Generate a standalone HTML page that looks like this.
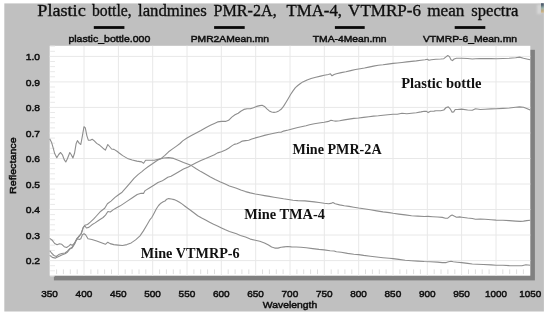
<!DOCTYPE html>
<html><head><meta charset="utf-8"><title>Mean spectra</title>
<style>
html,body{margin:0;padding:0;background:#fff;}
body{width:550px;height:316px;overflow:hidden;}
svg{display:block;}
.sans{font-family:"Liberation Sans",Arial,sans-serif;fill:#111;stroke:#111;stroke-width:0.5px;}
.serif{font-family:"Liberation Serif","Times New Roman",serif;fill:#111;}
</style></head><body>
<svg width="550" height="316" viewBox="0 0 550 316">
<defs><linearGradient id="ic" x1="0" y1="0" x2="0" y2="1"><stop offset="0" stop-color="#2c3c54"/><stop offset="0.2" stop-color="#3c5060"/><stop offset="0.5" stop-color="#8fb0a6"/><stop offset="0.8" stop-color="#c4a468"/><stop offset="1" stop-color="#d8c4a0"/></linearGradient><filter id="b" x="-5%" y="-5%" width="110%" height="110%"><feGaussianBlur stdDeviation="0.55"/></filter>
<filter id="b3" x="-50%" y="-30%" width="200%" height="160%"><feGaussianBlur stdDeviation="1"/></filter>
<filter id="b2" x="-5%" y="-20%" width="110%" height="140%"><feGaussianBlur stdDeviation="0.35"/></filter></defs>
<rect x="0" y="0" width="550" height="316" fill="#ffffff"/>
<rect x="4.3" y="3.4" width="539.6" height="308.1" fill="#c0c0c0"/>
<rect x="537" y="4.5" width="4.5" height="9.5" fill="#d6d6d6" filter="url(#b3)"/>
<rect x="541" y="3.2" width="2.8" height="9.8" fill="url(#ic)" opacity="0.8" filter="url(#b)"/>
<rect x="53.9" y="49.8" width="481.0" height="230.6" fill="#808080"/>
<rect x="49.7" y="45.8" width="480.6" height="229.9" fill="#ffffff"/>
<path d="M84.0 45.8V275.7M118.4 45.8V275.7M152.7 45.8V275.7M187.0 45.8V275.7M221.3 45.8V275.7M255.7 45.8V275.7M290.0 45.8V275.7M324.3 45.8V275.7M358.7 45.8V275.7M393.0 45.8V275.7M427.3 45.8V275.7M461.6 45.8V275.7M496.0 45.8V275.7M49.7 260.6H530.3M49.7 235.0H530.3M49.7 209.5H530.3M49.7 184.0H530.3M49.7 158.5H530.3M49.7 133.0H530.3M49.7 107.4H530.3M49.7 81.9H530.3M49.7 56.4H530.3" stroke="#e8e8e8" stroke-width="1" fill="none"/>
<path d="M56.6 269.4V274.1M63.4 269.4V274.1M70.3 269.4V274.1M77.2 269.4V274.1M90.9 269.4V274.1M97.8 269.4V274.1M104.6 269.4V274.1M111.5 269.4V274.1M125.2 269.4V274.1M132.1 269.4V274.1M139.0 269.4V274.1M145.8 269.4V274.1M159.6 269.4V274.1M166.4 269.4V274.1M173.3 269.4V274.1M180.1 269.4V274.1M193.9 269.4V274.1M200.7 269.4V274.1M207.6 269.4V274.1M214.5 269.4V274.1M228.2 269.4V274.1M235.1 269.4V274.1M241.9 269.4V274.1M248.8 269.4V274.1M262.5 269.4V274.1M269.4 269.4V274.1M276.3 269.4V274.1M283.1 269.4V274.1M296.9 269.4V274.1M303.7 269.4V274.1M310.6 269.4V274.1M317.5 269.4V274.1M331.2 269.4V274.1M338.1 269.4V274.1M344.9 269.4V274.1M351.8 269.4V274.1M365.5 269.4V274.1M372.4 269.4V274.1M379.3 269.4V274.1M386.1 269.4V274.1M399.9 269.4V274.1M406.7 269.4V274.1M413.6 269.4V274.1M420.4 269.4V274.1M434.2 269.4V274.1M441.0 269.4V274.1M447.9 269.4V274.1M454.8 269.4V274.1M468.5 269.4V274.1M475.4 269.4V274.1M482.2 269.4V274.1M489.1 269.4V274.1M502.8 269.4V274.1M509.7 269.4V274.1M516.6 269.4V274.1M523.4 269.4V274.1" stroke="#dedede" stroke-width="1" fill="none"/>
<path d="M50.2 275.9H55.0M50.2 270.8H55.0M50.2 265.7H55.0M50.2 255.5H55.0M50.2 250.4H55.0M50.2 245.2H55.0M50.2 240.1H55.0M50.2 229.9H55.0M50.2 224.8H55.0M50.2 219.7H55.0M50.2 214.6H55.0M50.2 204.4H55.0M50.2 199.3H55.0M50.2 194.2H55.0M50.2 189.1H55.0M50.2 178.9H55.0M50.2 173.8H55.0M50.2 168.7H55.0M50.2 163.6H55.0M50.2 153.4H55.0M50.2 148.3H55.0M50.2 143.2H55.0M50.2 138.1H55.0M50.2 127.9H55.0M50.2 122.8H55.0M50.2 117.6H55.0M50.2 112.5H55.0M50.2 102.3H55.0M50.2 97.2H55.0M50.2 92.1H55.0M50.2 87.0H55.0M50.2 76.8H55.0M50.2 71.7H55.0M50.2 66.6H55.0M50.2 61.5H55.0M50.2 51.3H55.0M50.2 46.2H55.0" stroke="#e9e9e9" stroke-width="1" fill="none"/>
<g fill="none" stroke="#8e8e8e" stroke-width="1.1" stroke-linejoin="round" filter="url(#b)">
<polyline points="49.7,255.4 52.3,257.4 55.5,258.1 58.7,256.5 61.8,254.9 65.0,253.8 67.4,252.2 69.8,249.1 72.1,247.9 74.5,244.3 76.9,238.8 79.3,235.6 81.2,234.0 83.2,227.7 84.8,225.3 87.5,224.5 90.3,222.1 93.5,219.2 96.4,216.0 100.8,211.2 104.7,208.3 107.4,203.8 111.0,201.1 115.0,197.4 118.2,195.0 122.1,192.2 126.1,187.7 130.0,183.2 134.0,178.4 138.0,174.6 141.9,171.6 144.2,169.6 148.0,166.7 152.8,163.5 157.5,160.3 161.5,158.2 164.6,155.6 168.6,151.8 172.6,148.9 176.5,146.1 180.0,143.5 182.7,140.9 187.0,138.0 191.4,135.6 196.2,132.9 200.9,130.4 205.7,127.7 210.4,125.3 214.4,123.4 217.6,121.9 221.5,121.4 225.5,121.4 228.6,120.3 231.8,117.1 235.0,114.8 238.2,113.3 240.8,111.2 243.9,109.4 247.1,108.8 250.3,108.8 253.4,107.7 256.6,106.4 259.8,105.6 262.1,105.2 264.5,106.4 266.9,108.8 269.3,110.9 271.6,112.0 274.0,112.4 276.4,112.0 278.8,110.9 281.1,109.3 283.5,106.4 285.9,102.5 288.3,98.5 290.6,94.5 293.0,90.9 295.4,87.7 297.8,85.5 300.1,83.7 302.8,81.9 307.1,79.9 311.1,78.5 315.8,77.2 320.6,76.1 324.2,75.3 328.5,74.5 330.4,73.8 332.0,75.8 334.1,74.5 336.4,73.8 341.2,72.6 345.9,71.7 350.7,70.6 355.4,69.5 360.2,68.7 364.5,68.0 368.8,67.1 373.5,66.1 378.3,65.3 383.0,64.8 387.8,64.1 393.0,63.4 397.3,63.0 402.0,62.5 406.8,61.9 411.5,61.4 416.3,60.9 421.0,60.3 425.0,59.8 427.4,59.3 428.9,60.3 431.3,59.8 435.9,59.3 440.7,59.0 443.8,58.7 445.7,57.1 447.8,55.5 449.4,56.6 451.0,59.8 452.5,60.6 454.1,59.0 456.5,58.2 461.7,58.2 467.6,58.5 472.3,59.0 475.5,58.7 480.3,58.6 485.0,58.6 491.3,58.6 496.1,58.7 502.9,58.5 509.3,58.2 515.6,57.7 519.6,57.1 523.5,58.2 526.7,59.0 530.2,59.8"/>
<polyline points="49.7,250.6 51.5,253.0 53.9,255.4 56.3,256.5 58.7,254.6 61.8,253.5 65.0,253.0 67.4,251.1 69.8,248.6 72.1,247.1 74.5,243.5 76.9,238.4 79.3,236.4 81.2,233.2 83.2,227.4 84.8,225.8 86.4,228.0 88.8,227.4 91.9,224.8 95.1,222.9 98.5,220.5 103.1,217.5 105.5,215.1 107.9,211.5 110.3,212.0 113.4,209.6 116.6,207.7 119.8,206.1 122.9,204.1 127.7,200.9 132.4,197.7 137.2,194.5 141.1,193.3 143.5,193.4 145.1,190.6 149.8,187.7 154.2,185.0 158.0,182.5 161.8,181.1 164.8,179.2 167.8,177.3 171.0,176.3 174.1,174.5 178.0,172.2 183.5,169.1 188.3,166.9 191.4,165.3 196.2,162.7 200.9,160.5 205.7,158.5 210.4,156.4 214.4,154.8 217.6,152.9 221.5,151.7 225.5,150.0 228.6,148.2 231.8,145.9 234.2,144.4 237.0,143.8 239.8,142.5 242.3,141.1 245.5,140.6 248.7,140.2 251.8,139.1 255.3,137.9 259.8,136.7 264.5,135.4 269.3,134.3 274.0,133.2 278.8,132.2 281.1,132.2 283.5,131.1 288.3,130.0 293.0,128.8 297.8,127.5 302.5,126.5 306.0,125.7 309.5,124.8 314.3,123.8 319.0,123.0 324.2,122.2 328.5,121.4 330.9,120.3 333.3,120.8 335.6,121.1 339.6,120.7 344.3,119.9 349.1,119.1 353.8,118.4 358.6,118.0 363.6,117.4 368.8,116.7 373.5,116.1 378.3,115.8 383.0,115.3 387.8,114.8 393.0,114.3 397.3,114.2 402.0,113.3 406.8,113.7 411.5,113.2 416.3,112.7 421.0,111.9 424.2,111.2 426.6,111.4 428.1,112.6 430.5,111.2 434.0,111.1 435.9,110.8 440.7,110.7 443.8,110.0 446.2,107.5 448.3,106.9 450.2,108.8 452.1,112.2 453.7,111.9 455.2,109.5 457.3,109.5 461.7,109.1 467.6,110.0 472.3,110.3 475.5,108.8 480.3,109.5 485.0,109.3 491.3,108.9 496.1,108.8 502.9,108.4 509.3,108.0 515.6,107.2 519.6,106.9 523.5,107.2 526.7,108.4 530.2,110.0"/>
<polyline points="49.7,138.7 51.5,142.2 53.1,147.7 54.7,153.6 56.8,157.7 58.7,154.5 60.6,152.5 62.6,155.2 64.2,159.6 65.8,162.0 67.4,158.8 69.8,152.5 71.3,154.8 72.9,158.0 74.5,153.3 76.1,143.8 77.4,140.6 79.3,143.4 80.8,144.5 82.4,135.8 84.0,126.7 85.3,127.9 86.9,135.8 88.4,140.3 90.3,140.3 92.2,139.3 94.3,140.9 96.7,143.4 99.8,145.3 103.0,148.2 105.4,150.1 107.8,144.5 109.5,146.5 111.6,149.0 114.0,149.4 117.0,151.2 119.5,153.2 122.7,155.6 127.4,158.4 132.2,160.0 136.9,161.1 141.7,161.9 143.6,163.2 145.6,160.3 149.6,160.3 154.3,160.3 159.1,159.1 163.8,158.0 168.6,157.6 173.6,158.4 178.8,160.4 183.5,162.4 188.3,164.3 191.4,165.6 196.2,168.8 200.9,171.6 205.7,174.3 210.4,177.0 215.2,179.5 219.9,181.7 224.7,183.8 229.4,185.9 234.2,187.4 236.5,188.2 240.8,190.0 245.5,191.6 250.3,192.9 255.3,194.0 259.8,194.8 264.5,195.6 269.3,196.4 274.0,197.2 278.8,198.0 283.5,198.8 288.3,199.5 293.0,200.2 297.8,200.6 304.8,200.9 309.5,201.4 314.3,201.9 319.0,202.5 324.2,203.3 328.5,203.8 330.9,203.4 332.9,202.6 335.2,203.8 339.6,204.9 344.3,205.7 349.1,206.4 353.8,207.2 358.6,208.0 363.7,208.7 370.3,209.8 376.7,210.9 383.0,211.9 389.3,212.6 393.0,213.3 398.8,214.1 405.2,214.9 411.5,215.7 417.8,216.1 424.2,216.5 428.0,216.4 432.8,216.7 437.5,217.0 442.3,217.4 445.4,218.2 447.8,218.2 450.2,216.1 452.1,215.0 454.1,216.1 456.5,217.2 459.7,216.9 461.7,217.2 467.6,218.0 472.3,218.5 475.5,219.3 480.3,219.1 485.0,219.3 491.3,219.8 496.1,220.1 502.9,220.3 509.3,220.6 515.6,221.1 520.3,221.4 523.5,221.1 526.7,220.6 530.2,220.3"/>
<polyline points="49.7,238.4 52.3,240.3 54.7,243.5 57.1,244.8 59.5,243.8 61.8,244.3 64.2,246.7 66.6,247.5 69.0,245.9 70.5,244.3 72.1,245.4 74.5,243.2 76.1,240.3 77.7,238.8 79.3,239.5 80.8,238.8 82.4,234.8 84.0,233.7 85.6,234.8 88.0,238.8 91.9,239.5 96.7,241.1 101.4,242.7 105.4,244.3 107.8,242.2 110.1,243.6 113.8,244.6 118.2,245.1 122.5,245.5 126.9,244.6 131.2,242.9 135.6,239.9 140.0,235.9 143.4,230.9 146.9,225.0 150.2,219.3 151.8,217.5 154.1,213.2 156.4,208.8 158.6,205.5 160.9,203.2 163.2,201.8 165.0,201.0 166.8,199.2 168.6,198.6 171.4,199.0 174.1,199.6 176.8,200.7 179.5,202.3 182.3,204.1 185.0,206.2 187.7,208.3 190.5,210.2 193.5,212.5 197.7,215.7 201.7,218.0 205.6,220.0 209.6,222.2 213.6,224.3 217.5,225.9 221.5,227.9 225.4,229.8 229.4,231.4 233.4,232.7 236.5,233.8 240.4,235.4 245.5,237.0 250.3,239.1 255.3,240.2 259.8,241.3 264.5,242.9 268.5,245.0 271.6,247.0 274.8,248.1 278.0,248.1 281.1,247.3 284.3,246.9 287.5,246.5 291.4,246.9 296.2,247.0 300.9,247.2 306.3,247.8 312.7,248.6 319.0,249.4 324.2,249.9 330.1,250.7 334.1,251.0 336.4,251.8 341.2,252.3 347.5,253.4 353.8,254.2 358.6,254.6 363.7,255.4 370.3,256.2 376.7,257.0 383.0,257.7 389.3,258.3 393.0,258.6 398.8,259.4 405.2,260.2 411.5,260.7 417.8,261.1 424.2,261.5 430.5,261.7 437.5,262.1 442.3,262.6 446.2,262.6 448.6,261.8 451.0,261.3 453.3,261.8 457.3,262.2 461.7,262.6 467.6,263.4 472.3,264.0 477.1,264.2 483.4,264.5 491.3,264.9 496.1,265.3 502.9,265.3 509.3,265.6 515.6,265.7 521.9,265.7 525.9,264.8 530.2,265.3"/>
</g>
<g class="serif" font-size="16.6" stroke="#111" stroke-width="0.35" filter="url(#b2)">
<text x="37.3" y="15.8" textLength="48.4" lengthAdjust="spacingAndGlyphs">Plastic</text>
<text x="92.0" y="15.8" textLength="39.7" lengthAdjust="spacingAndGlyphs">bottle,</text>
<text x="138.0" y="15.8" textLength="68.8" lengthAdjust="spacingAndGlyphs">landmines</text>
<text x="213.6" y="15.8" textLength="63.1" lengthAdjust="spacingAndGlyphs">PMR-2A,</text>
<text x="286.5" y="15.8" textLength="55.5" lengthAdjust="spacingAndGlyphs">TMA-4,</text>
<text x="348.1" y="15.8" textLength="72.8" lengthAdjust="spacingAndGlyphs">VTMRP-6</text>
<text x="427.2" y="15.8" textLength="37.2" lengthAdjust="spacingAndGlyphs">mean</text>
<text x="471.3" y="15.8" textLength="47.1" lengthAdjust="spacingAndGlyphs">spectra</text>
</g>
<rect x="93.8" y="26.1" width="30.6" height="2.8" fill="#0a0a0a"/>
<rect x="214.1" y="26.1" width="30.6" height="2.8" fill="#0a0a0a"/>
<rect x="334.9" y="26.1" width="29.8" height="2.8" fill="#0a0a0a"/>
<rect x="454.7" y="26.1" width="30.6" height="2.8" fill="#0a0a0a"/>
<g class="sans" font-size="9.9" filter="url(#b2)">
<text x="68.4" y="42.3" textLength="81.9" lengthAdjust="spacingAndGlyphs">plastic_bottle.000</text>
<text x="190.7" y="42.3" textLength="78.4" lengthAdjust="spacingAndGlyphs">PMR2AMean.mn</text>
<text x="312.8" y="42.3" textLength="73.8" lengthAdjust="spacingAndGlyphs">TMA-4Mean.mn</text>
<text x="422.9" y="42.3" textLength="94.2" lengthAdjust="spacingAndGlyphs">VTMRP-6_Mean.mn</text>
<text x="25.7" y="264.2" textLength="14.3" lengthAdjust="spacingAndGlyphs">0.2</text>
<text x="25.7" y="238.6" textLength="14.3" lengthAdjust="spacingAndGlyphs">0.3</text>
<text x="25.7" y="213.1" textLength="14.3" lengthAdjust="spacingAndGlyphs">0.4</text>
<text x="25.7" y="187.6" textLength="14.3" lengthAdjust="spacingAndGlyphs">0.5</text>
<text x="25.7" y="162.1" textLength="14.3" lengthAdjust="spacingAndGlyphs">0.6</text>
<text x="25.7" y="136.6" textLength="14.3" lengthAdjust="spacingAndGlyphs">0.7</text>
<text x="25.7" y="111.0" textLength="14.3" lengthAdjust="spacingAndGlyphs">0.8</text>
<text x="25.7" y="85.5" textLength="14.3" lengthAdjust="spacingAndGlyphs">0.9</text>
<text x="25.7" y="60.0" textLength="14.3" lengthAdjust="spacingAndGlyphs">1.0</text>
<text x="41.2" y="297.3" textLength="16.7" lengthAdjust="spacingAndGlyphs">350</text>
<text x="75.6" y="297.3" textLength="16.7" lengthAdjust="spacingAndGlyphs">400</text>
<text x="109.9" y="297.3" textLength="16.7" lengthAdjust="spacingAndGlyphs">450</text>
<text x="144.2" y="297.3" textLength="16.7" lengthAdjust="spacingAndGlyphs">500</text>
<text x="178.6" y="297.3" textLength="16.7" lengthAdjust="spacingAndGlyphs">550</text>
<text x="212.9" y="297.3" textLength="16.7" lengthAdjust="spacingAndGlyphs">600</text>
<text x="247.2" y="297.3" textLength="16.7" lengthAdjust="spacingAndGlyphs">650</text>
<text x="281.5" y="297.3" textLength="16.7" lengthAdjust="spacingAndGlyphs">700</text>
<text x="315.9" y="297.3" textLength="16.7" lengthAdjust="spacingAndGlyphs">750</text>
<text x="350.2" y="297.3" textLength="16.7" lengthAdjust="spacingAndGlyphs">800</text>
<text x="384.5" y="297.3" textLength="16.7" lengthAdjust="spacingAndGlyphs">850</text>
<text x="418.9" y="297.3" textLength="16.7" lengthAdjust="spacingAndGlyphs">900</text>
<text x="453.2" y="297.3" textLength="16.7" lengthAdjust="spacingAndGlyphs">950</text>
<text x="484.9" y="297.3" textLength="22.0" lengthAdjust="spacingAndGlyphs">1000</text>
<text x="519.2" y="297.3" textLength="22.0" lengthAdjust="spacingAndGlyphs">1050</text>
<text x="262.8" y="307.8" textLength="54.4" lengthAdjust="spacingAndGlyphs">Wavelength</text>
<text transform="translate(16.2,193.9) rotate(-90)" textLength="56.6" lengthAdjust="spacingAndGlyphs">Reflectance</text>
</g>
<text class="serif" x="401.2" y="87.7" font-size="13.9" font-weight="bold" textLength="80.2" lengthAdjust="spacingAndGlyphs">Plastic bottle</text>
<text class="serif" x="292.6" y="154.2" font-size="13.9" font-weight="bold" textLength="89.0" lengthAdjust="spacingAndGlyphs">Mine PMR-2A</text>
<text class="serif" x="244.2" y="219.4" font-size="13.9" font-weight="bold" textLength="80.8" lengthAdjust="spacingAndGlyphs">Mine TMA-4</text>
<text class="serif" x="140.8" y="258.0" font-size="13.9" font-weight="bold" textLength="98.9" lengthAdjust="spacingAndGlyphs">Mine VTMRP-6</text>
</svg>
</body></html>
